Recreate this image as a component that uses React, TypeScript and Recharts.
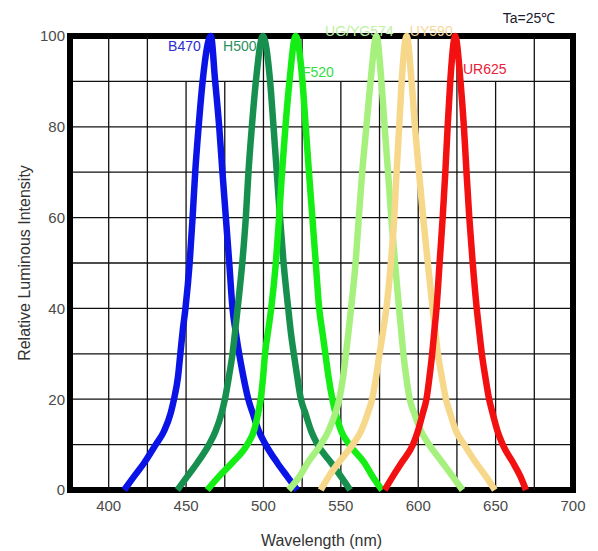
import React from "react";
import {
  LineChart,
  Line,
  XAxis,
  YAxis,
  CartesianGrid,
  ReferenceLine,
  ReferenceArea,
  ReferenceDot,
  Label,
} from "recharts";

const levels = [0, 3, 6, 10, 13, 17, 20, 25, 30, 35, 40, 50, 60, 70, 80, 90];

// wavelength (nm) on the rising side, the peak, and the falling side, per level
const b470Rise = [410, 416.4, 423, 430.4, 435.8, 440.1, 442.2, 444.8, 446.3, 447.8, 449.6, 452.3, 454.2, 455.9, 458.1, 460.7];
const b470Fall = [521.8, 515.3, 508.9, 501.4, 497, 493, 490.2, 487, 484.3, 482, 480, 477.9, 475.7, 473.5, 471.4, 468.8];

const h500Rise = [444.4, 450.8, 457.3, 464.8, 469.1, 473, 475.1, 477.7, 480, 481.7, 483.3, 486.3, 488.6, 490.3, 492.5, 495.1];
const h500Fall = [556, 550, 543.7, 535, 530.8, 527, 524.2, 521.8, 519.6, 517.6, 516, 513, 510.7, 508.6, 506.5, 504.3];

const f520Rise = [463.7, 471.3, 479.8, 489.5, 493.8, 496.6, 498.2, 499.8, 501, 503, 505, 508, 510.1, 512, 514.2, 516.8];
const f520Fall = [576.6, 570.5, 565.2, 555.5, 550.2, 546.5, 544.5, 542, 540, 538, 536, 533.8, 531.6, 529.4, 527.3, 525.2];

const ug574Rise = [516.3, 523.3, 528.6, 537, 542, 546.5, 549, 551.5, 553.3, 555, 556.6, 559.5, 561.6, 563.8, 566.5, 569.2];
const ug574Fall = [628.6, 622.2, 615.7, 607, 601.8, 597.3, 594.5, 592.2, 590.4, 589, 587.6, 585, 582.6, 580.5, 578.3, 576.2];

const uy590Rise = [537, 542.2, 548.5, 557.6, 563.1, 567.5, 570.2, 572.8, 575, 577.3, 579.4, 582.3, 584.5, 586, 587.7, 589.3];
const uy590Fall = [649.5, 643.7, 637.3, 629.7, 624.4, 620.5, 617.9, 615.2, 612.7, 611, 609.3, 606.2, 603.2, 600.5, 597.9, 595.7];

const ur625Rise = [578.3, 583.6, 589.2, 596.6, 599.8, 603, 605.3, 607.3, 609, 610.4, 611.8, 613.8, 615.8, 617.5, 619, 620.7];
const ur625Fall = [669.6, 666, 661.3, 654.6, 651.2, 648, 645.8, 643.3, 641.1, 639.4, 637.8, 635.2, 633, 631.2, 629.5, 627.3];

const peaks = { B470: 466, H500: 499.6, F520: 520.8, UG574: 573, UY590: 592.5, UR625: 623.9 };

const xTicks = [400, 450, 500, 550, 600, 650, 700];
const yTicks = [0, 20, 40, 60, 80, 100];
const hGrid = [10, 20, 30, 40, 50, 60, 70, 80, 90];
const vGridFull = [400, 425, 500, 525, 575, 600, 625, 675];
const vGridShort = [450, 475, 550, 650];

function curve(rise: number[], peak: number, fall: number[]) {
  const up = rise.map((nm, i) => ({ nm, rel: levels[i] }));
  const down = fall.map((nm, i) => ({ nm, rel: levels[i] })).reverse();
  return [...up, { nm: peak, rel: 100 }, ...down];
}

const series = [
  { name: "B470", color: "#0a14e6", data: curve(b470Rise, peaks.B470, b470Fall) },
  { name: "H500", color: "#17904f", data: curve(h500Rise, peaks.H500, h500Fall) },
  { name: "F520", color: "#14ee14", data: curve(f520Rise, peaks.F520, f520Fall) },
  { name: "UG/YG574", color: "#a6f07e", data: curve(ug574Rise, peaks.UG574, ug574Fall) },
  { name: "UY590", color: "#f7d88a", data: curve(uy590Rise, peaks.UY590, uy590Fall) },
  { name: "UR625", color: "#f21010", data: curve(ur625Rise, peaks.UR625, ur625Fall) },
];

const FONT = "'Liberation Sans', Arial, sans-serif";

function tag(text: string, color: string, size = 14) {
  return (p: any) => (
    <text x={p.cx} y={p.cy} fill={color} fontSize={size} fontFamily={FONT} dominantBaseline="central">
      {text}
    </text>
  );
}

export default function App() {
  return (
    <div style={{ position: "absolute", left: 0, top: 0, width: 598, height: 551, background: "#fff", fontFamily: FONT }}>
      <LineChart width={598} height={551} margin={{ top: 36, right: 25, bottom: 31, left: 20 }}>
        <CartesianGrid horizontalValues={hGrid} vertical={false} stroke="#111" strokeWidth={1.3} />
        <XAxis
          type="number"
          dataKey="nm"
          domain={[375, 700]}
          ticks={xTicks}
          height={30}
          axisLine={false}
          tickLine={false}
          tickSize={8}
          tick={{ fill: "#4a4a4a", fontSize: 15, fontFamily: FONT }}
        >
          <Label value="Wavelength (nm)" position="bottom" offset={15} fill="#333" fontSize={16} fontFamily={FONT} />
        </XAxis>
        <YAxis
          type="number"
          dataKey="rel"
          domain={[0, 100]}
          ticks={yTicks}
          width={50}
          axisLine={false}
          tickLine={false}
          tickSize={3}
          tick={{ fill: "#4a4a4a", fontSize: 15, fontFamily: FONT }}
        >
          <Label value="Relative Luminous Intensity" angle={-90} position="insideLeft" offset={4} fill="#333" fontSize={16} fontFamily={FONT} style={{ textAnchor: "middle" }} />
        </YAxis>
        {vGridFull.map((v) => (
          <ReferenceLine key={`f${v}`} x={v} stroke="#111" strokeWidth={1.3} />
        ))}
        {vGridShort.map((v) => (
          <ReferenceLine key={`s${v}`} segment={[{ x: v, y: 0 }, { x: v, y: 90 }]} stroke="#111" strokeWidth={1.3} />
        ))}
        <ReferenceArea x1={375} x2={700} y1={0} y2={100} fill="none" fillOpacity={0} stroke="#000" strokeWidth={6} />
        <ReferenceDot x={438.4} y={97.8} r={0} ifOverflow="visible" shape={tag("B470", "#2b2bd0")} />
        <ReferenceDot x={473.9} y={97.8} r={0} ifOverflow="visible" shape={tag("H500", "#2d8f5c")} />
        <ReferenceDot x={524.9} y={92} r={0} ifOverflow="visible" shape={tag("F520", "#33dd44")} />
        <ReferenceDot x={539.8} y={101.1} r={0} ifOverflow="visible" shape={tag("UG/YG574", "#bdf0a0")} />
        <ReferenceDot x={594.6} y={101.1} r={0} ifOverflow="visible" shape={tag("UY590", "#f5d79a")} />
        <ReferenceDot x={628.9} y={92.7} r={0} ifOverflow="visible" shape={tag("UR625", "#e8203a")} />
        <ReferenceDot x={654.6} y={104} r={0} ifOverflow="visible" shape={tag("Ta=25\u2103", "#1a1a2e", 14)} />
        {series.map((s) => (
          <Line
            key={s.name}
            name={s.name}
            data={s.data}
            dataKey="rel"
            type="monotone"
            stroke={s.color}
            strokeWidth={6.5}
            strokeLinejoin="round"
            dot={false}
            activeDot={false}
            isAnimationActive={false}
          />
        ))}
      </LineChart>
    </div>
  );
}
